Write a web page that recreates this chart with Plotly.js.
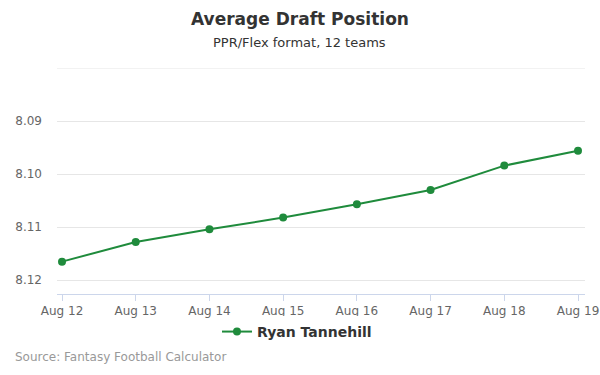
<!DOCTYPE html>
<html>
<head>
<meta charset="utf-8">
<script src="https://cdn.plot.ly/plotly-3.0.1.min.js"></script>
<style>html,body{margin:0;padding:0;background:#fff;}#chart{width:600px;height:375px;}</style>
</head>
<body>
<div id="chart"></div>
<script>
const dates = ["Aug 12", "Aug 13", "Aug 14", "Aug 15", "Aug 16", "Aug 17", "Aug 18", "Aug 19"];
const adpValues = [8.1165, 8.1128, 8.1104, 8.1082, 8.1057, 8.1030, 8.0984, 8.0956];
const playerName = "Ryan Tannehill";
const yTickVals = [8.08, 8.09, 8.10, 8.11, 8.12];
const yTickText = ["", "8.09", "8.10", "8.11", "8.12"];

const FONT = "DejaVu Sans, sans-serif";
const trace = {
  x: dates, y: adpValues, type: "scatter", mode: "lines+markers", name: playerName,
  line: {color: "#1f8b3c", width: 2}, marker: {color: "#1f8b3c", size: 8}
};
const layout = {
  width: 600, height: 375,
  margin: {l: 57, r: 15, t: 68, b: 81},
  paper_bgcolor: "#fff", plot_bgcolor: "#fff",
  font: {family: FONT, color: "#666", size: 12},
  title: {text: "<b>Average Draft Position</b>", x: 0.5, xanchor: "center", y: 0.95, yanchor: "middle",
          font: {family: FONT, size: 17, color: "#333"}},
  xaxis: {type: "category", range: [-0.068, 7.095], showgrid: false, showline: true, linecolor: "#ccd6eb", linewidth: 1,
          ticks: "outside", ticklen: 6, tickcolor: "#ccd6eb", tickfont: {size: 12, color: "#666"}, zeroline: false, fixedrange: true},
  yaxis: {range: [8.1226, 8.08], tickvals: yTickVals, ticktext: yTickText, showgrid: true, gridcolor: "#e6e6e6",
          zeroline: false, showline: false, ticks: "", ticklabelstandoff: 14, tickfont: {size: 12, color: "#666"}, fixedrange: true},
  shapes: [
    {type: "line", xref: "paper", yref: "y", x0: 0, x1: 1, y0: yTickVals[0], y1: yTickVals[0],
     line: {color: "#e6e6e6", width: 1}, layer: "below"}
  ],
  showlegend: true,
  legend: {orientation: "h", x: 0.4545, xanchor: "center", y: -0.168, yanchor: "middle",
           font: {family: FONT, size: 14, color: "#333", weight: "bold"}},
  annotations: [
    {text: "PPR/Flex format, 12 teams", xref: "paper", yref: "paper", x: 0.4602, y: 1, xanchor: "center", yanchor: "middle",
     yshift: 26, showarrow: false, font: {family: FONT, size: 13, color: "#333"}},
    {text: "Source: Fantasy Football Calculator", xref: "paper", yref: "paper", x: 0, y: 0, xanchor: "left", yanchor: "middle",
     xshift: -44, yshift: -63, showarrow: false, font: {family: FONT, size: 12, color: "#999"}}
  ]
};
Plotly.newPlot("chart", [trace], layout, {displayModeBar: false, staticPlot: true});
</script>
</body>
</html>
